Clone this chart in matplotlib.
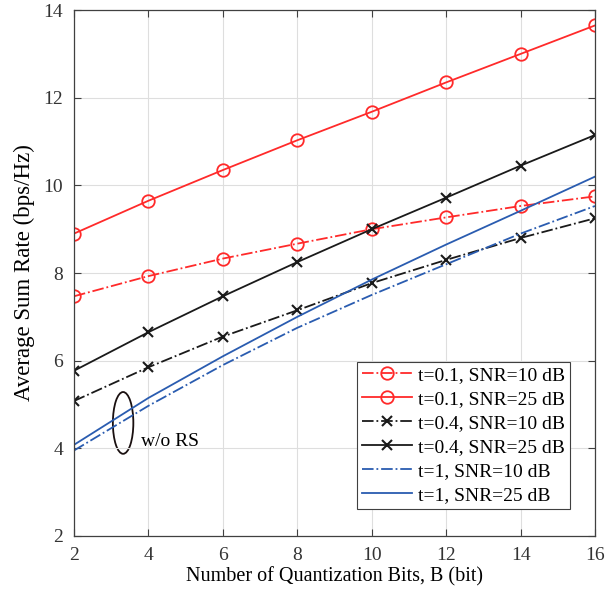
import matplotlib.pyplot as plt
from matplotlib.patches import Ellipse
import numpy as np

plt.rcParams['font.family'] = ['Liberation Serif', 'DejaVu Serif']
plt.rcParams['mathtext.fontset'] = 'stix'

# data
B = [2, 4, 6, 8, 10, 12, 14, 16]
t01_snr10 = [7.47, 7.93, 8.33, 8.67, 9.00, 9.27, 9.53, 9.75]
t01_snr25 = [8.90, 9.65, 10.35, 11.03, 11.68, 12.35, 13.00, 13.65]
t04_snr10 = [5.08, 5.85, 6.55, 7.15, 7.77, 8.30, 8.80, 9.25]
t04_snr25 = [5.77, 6.65, 7.47, 8.25, 9.00, 9.72, 10.45, 11.15]
t1_snr10 = [3.95, 4.97, 5.90, 6.75, 7.50, 8.20, 8.90, 9.53]
t1_snr25 = [4.08, 5.15, 6.10, 7.00, 7.85, 8.65, 9.42, 10.20]

red = '#ff2a2a'
blue = '#2a5cb0'
black = '#1a1a1a'

fig = plt.figure(figsize=(6.14, 5.95), dpi=100)
ax = fig.add_axes([0.1205, 0.0992, 0.8485, 0.8838])

ax.plot(B, t01_snr10, '-.', color=red, marker='o', mfc='none', ms=9, mew=1.3, lw=1.3,
        label='t=0.1, SNR=10 dB')
ax.plot(B, t01_snr25, '-', color=red, marker='o', mfc='none', ms=9, mew=1.3, lw=1.3,
        label='t=0.1, SNR=25 dB')
ax.plot(B, t04_snr10, '-.', color=black, marker='x', ms=7, mew=1.5, lw=1.3,
        label='t=0.4, SNR=10 dB')
ax.plot(B, t04_snr25, '-', color=black, marker='x', ms=7, mew=1.5, lw=1.3,
        label='t=0.4, SNR=25 dB')
ax.plot(B, t1_snr10, '-.', color=blue, lw=1.3, label='t=1, SNR=10 dB')
ax.plot(B, t1_snr25, '-', color=blue, lw=1.3, label='t=1, SNR=25 dB')

# w/o RS annotation
ax.add_patch(Ellipse((3.32, 4.58), 0.55, 1.41, fill=False, ec='#1a1010', lw=1.3))
ax.text(3.8, 4.15, 'w/o RS', fontsize=14, va='center', ha='left')

ax.set_xlim(2, 16)
ax.set_ylim(2, 14)
ax.set_xticks(np.arange(2, 17, 2))
ax.set_yticks(np.arange(2, 15, 2))
ax.grid(True, color='#dedede', lw=0.8)
ax.tick_params(direction='in', top=True, right=True, labelsize=14, length=5,
               color='#404040', labelcolor='#333333')
ax.tick_params(axis='x', pad=8)
ax.tick_params(axis='y', pad=8)
for s in ax.spines.values():
    s.set_color('#404040')
    s.set_linewidth(0.9)

ax.set_xlabel('Number of Quantization Bits, B (bit)', fontsize=14.5, labelpad=2)
ax.set_ylabel('Average Sum Rate (bps/Hz)', fontsize=16.5, labelpad=6)

leg = ax.legend(loc='lower right', bbox_to_anchor=(0.952, 0.051), fontsize=14,
                fancybox=False, edgecolor='#404040', framealpha=1,
                handlelength=2.6, handletextpad=0.3, labelspacing=0.33,
                borderpad=0.25, borderaxespad=0)
leg.get_frame().set_linewidth(0.8)

fig.savefig('out.png', dpi=100)
